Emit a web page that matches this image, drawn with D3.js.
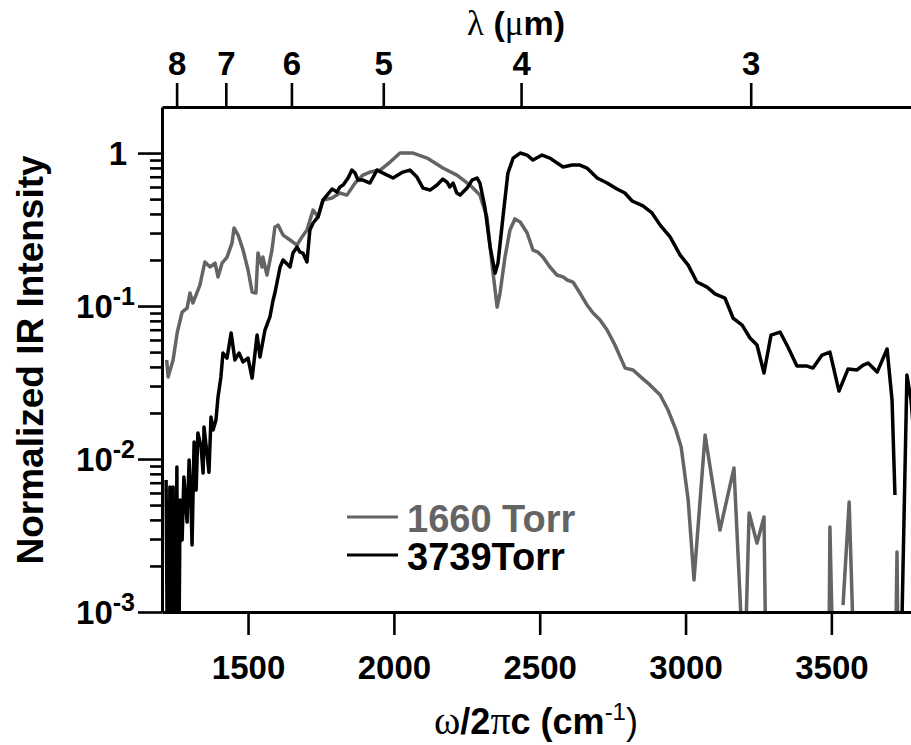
<!DOCTYPE html>
<html><head><meta charset="utf-8">
<script src="https://cdn.jsdelivr.net/npm/d3@7"></script>
<style>body{margin:0;background:#fff}svg{display:block}</style>
</head><body>
<svg id="chart" width="911" height="745"></svg>
<script>
// IR emission spectra, normalized, at two pressures (wavenumber in cm^-1)
const wn1660 = [1221,1226,1243,1257,1274,1291,1301,1311,1335,1352,1370,1387,1397,1411,1428,1445,1452,1466,1483,1500,1514,1527,1534,1548,1551,1565,1582,1592,1603,1620,1644,1668,1685,1702,1723,1740,1757,1788,1815,1839,1867,1894,1918,1953,1987,2021,2066,2114,2168,2216,2261,2295,2319,2336,2354,2364,2381,2398,2415,2433,2457,2477,2494,2511,2535,2559,2580,2594,2614,2638,2662,2683,2707,2731,2758,2793,2820,2851,2878,2913,2940,2967,2985,3009,3029,3067,3118,3166,3187,3201,3218,3245,3269,3280,3489,3495,3513,3530,3540,3561,3588,3715,3725,3732];
const int1660 = [0.0444,0.0344,0.0444,0.0667,0.0914,0.097,0.1216,0.1047,0.137,0.194,0.180,0.191,0.155,0.191,0.209,0.258,0.324,0.291,0.232,0.172,0.1235,0.1216,0.222,0.180,0.209,0.1595,0.232,0.328,0.338,0.291,0.270,0.250,0.283,0.314,0.424,0.382,0.493,0.508,0.548,0.531,0.637,0.718,0.751,0.774,0.873,1.0,1.0,0.927,0.798,0.718,0.618,0.531,0.382,0.191,0.0985,0.1216,0.209,0.314,0.371,0.354,0.300,0.232,0.225,0.209,0.180,0.1595,0.155,0.148,0.1435,0.1216,0.1016,0.090,0.081,0.0697,0.0556,0.0393,0.0382,0.0338,0.0305,0.0262,0.0209,0.0155,0.0120,0.0054,0.00162,0.01435,0.00343,0.00873,0.00124,0.0003,0.00444,0.00282,0.00418,0.0001,0.0001,0.0036,0.0001,null,0.00111,0.00524,0.0001,0.0001,0.00247,0.0001];

const wn3739 = [1219,1226,1232,1239,1243,1250,1256,1260,1267,1274,1280,1291,1298,1304,1308,1315,1322,1328,1339,1346,1349,1359,1366,1373,1380,1390,1397,1407,1414,1428,1442,1455,1469,1483,1500,1514,1531,1541,1558,1575,1586,1592,1610,1620,1644,1654,1668,1678,1688,1702,1712,1723,1740,1757,1771,1788,1805,1815,1826,1843,1856,1867,1877,1894,1918,1942,1963,1997,2031,2055,2079,2100,2124,2148,2168,2182,2192,2203,2216,2227,2251,2268,2285,2295,2312,2330,2347,2357,2374,2391,2409,2433,2457,2477,2508,2535,2580,2611,2638,2662,2697,2731,2765,2792,2817,2854,2885,2913,2947,2981,3009,3039,3074,3101,3135,3163,3194,3221,3245,3269,3293,3324,3351,3382,3417,3437,3468,3495,3526,3557,3588,3609,3626,3657,3691,3708,3718,3725,3732,3759,3773,3790];
const int3739 = [0.0073,0.0001,0.00656,0.0001,0.00656,0.0001,0.00887,0.0001,0.0054,0.00296,0.00762,0.00387,0.00985,0.00565,0.00274,0.0129,0.00627,0.0148,0.0120,0.0081,0.0162,0.0109,0.0082,0.0188,0.0155,0.0180,0.0254,0.0344,0.0493,0.0457,0.0667,0.0444,0.0493,0.0431,0.0457,0.0338,0.0646,0.0464,0.0697,0.0848,0.1095,0.1216,0.180,0.2,0.180,0.222,0.243,0.225,0.222,0.194,0.314,0.349,0.382,0.493,0.531,0.582,0.556,0.600,0.618,0.687,0.774,0.740,0.666,0.666,0.637,0.774,0.740,0.687,0.751,0.774,0.697,0.590,0.573,0.618,0.676,0.646,0.600,0.637,0.548,0.531,0.590,0.666,0.687,0.637,0.444,0.243,0.164,0.191,0.382,0.740,0.927,1.0,0.970,0.900,0.970,0.927,0.810,0.835,0.835,0.798,0.687,0.637,0.582,0.548,0.486,0.451,0.406,0.338,0.283,0.216,0.185,0.1435,0.133,0.120,0.1128,0.0835,0.0751,0.0618,0.0556,0.0365,0.0646,0.0676,0.054,0.0405,0.0405,0.0393,0.0478,0.050,0.0278,0.0387,0.0382,0.0411,0.0424,0.037,0.0524,0.0243,0.00582,null,0.0001,0.0354,0.0243,0.01];

const seriesNames = ["1660 Torr", "3739Torr"];
const seriesColors = ["#646464", "#000000"];

const xDomain = [1205, 3773];          // cm^-1
const topDomain = [1197, 3915];        // cm^-1 span of the wavelength axis
const yDomain = [0.001, 2];
const xTicks = [1500, 2000, 2500, 3000, 3500];
const lambdaTicks = [8, 7, 6, 5, 4, 3]; // micrometres
const yMajor = [0.001, 0.01, 0.1, 1];
const yExp = ["-3", "-2", "-1", ""];

const SANS = "'Liberation Sans', Arial, Helvetica, sans-serif";
const SERIF = "'Liberation Serif', 'Times New Roman', serif";

const svg = d3.select("#chart");
const m = {left: 162, right: 911, top: 107, bottom: 612};

const x = d3.scaleLinear().domain(xDomain).range([m.left, m.right]);
const xTop = d3.scaleLinear().domain(topDomain).range([m.left, m.right]);
const y = d3.scaleLog().domain(yDomain).range([m.bottom, m.top]);

svg.append("defs").append("clipPath").attr("id", "plotClip")
  .append("rect").attr("x", m.left).attr("y", m.top)
  .attr("width", m.right - m.left).attr("height", m.bottom - m.top);

// spectra
const series = [
  wn1660.map((w, i) => ({w, v: int1660[i]})),
  wn3739.map((w, i) => ({w, v: int3739[i]}))
];
const line = d3.line()
  .defined(d => d.v != null && d.v > 0)
  .x(d => x(d.w)).y(d => y(d.v));

svg.append("g").attr("clip-path", "url(#plotClip)")
  .selectAll("path").data(series).join("path")
  .attr("d", line)
  .attr("fill", "none")
  .attr("stroke", (d, i) => seriesColors[i])
  .attr("stroke-width", 3.5)
  .attr("stroke-linejoin", "round");

// bottom axis
const gx = svg.append("g").attr("transform", `translate(0,${m.bottom})`)
  .call(d3.axisBottom(x).tickValues(xTicks).tickFormat(d3.format("d"))
    .tickSize(23).tickSizeOuter(0).tickPadding(21));
// top axis (wavelength)
const gt = svg.append("g").attr("transform", `translate(0,${m.top})`)
  .call(d3.axisTop(xTop).tickValues(lambdaTicks.map(l => 1e4 / l))
    .tickFormat((d, i) => lambdaTicks[i]).tickSize(24).tickSizeOuter(0).tickPadding(8));
// left axis: major and minor ticks
const yMinor = [];
[0.001, 0.01, 0.1].forEach(dec => { for (let k = 2; k <= 9; k++) yMinor.push(dec * k); });
const gyMin = svg.append("g").attr("transform", `translate(${m.left},0)`)
  .call(d3.axisLeft(y).tickValues(yMinor).tickSize(12).tickSizeOuter(0).tickFormat(""));
const gy = svg.append("g").attr("transform", `translate(${m.left},0)`)
  .call(d3.axisLeft(y).tickValues(yMajor).tickSize(24).tickSizeOuter(0).tickFormat(""));

[gx, gt, gy, gyMin].forEach(g => {
  g.select(".domain").attr("stroke", "#000").attr("stroke-width", 3);
  g.selectAll(".tick line").attr("stroke", "#000").attr("stroke-width", 2.6);
  g.selectAll(".tick text").attr("font-family", SANS).attr("font-weight", "bold")
    .attr("font-size", 33).attr("fill", "#000");
});
gyMin.select(".domain").remove();

// left tick labels with powers of ten
yMajor.forEach((v, i) => {
  const t = svg.append("text")
    .attr("x", yExp[i] ? 135 : 127).attr("y", y(v) + 12)
    .attr("text-anchor", "end")
    .attr("font-family", SANS).attr("font-weight", "bold").attr("font-size", 33);
  if (yExp[i]) {
    t.append("tspan").text("10");
    t.append("tspan").attr("dy", -13).attr("font-size", 25).text(yExp[i]);
  } else {
    t.text("1");
  }
});

// axis titles
svg.append("text")
  .attr("transform", `translate(43,360) rotate(-90)`)
  .attr("text-anchor", "middle")
  .attr("font-family", SANS).attr("font-weight", "bold").attr("font-size", 37)
  .text("Normalized IR Intensity");

const xt = svg.append("text").attr("x", 536).attr("y", 734).attr("text-anchor", "middle")
  .attr("font-family", SANS).attr("font-weight", "bold").attr("font-size", 36);
xt.append("tspan").attr("font-family", SERIF).attr("font-weight", "normal").attr("font-size", 40).text("ω");
xt.append("tspan").text("/2");
xt.append("tspan").attr("font-family", SERIF).attr("font-weight", "normal").attr("font-size", 40).text("π");
xt.append("tspan").text("c (cm");
xt.append("tspan").attr("dy", -14).attr("font-size", 24).attr("font-weight", "normal").text("-1");
xt.append("tspan").attr("dy", 14).attr("font-weight", "normal").text(")");

const tt = svg.append("text").attr("x", 516).attr("y", 35).attr("text-anchor", "middle")
  .attr("font-family", SANS).attr("font-weight", "bold").attr("font-size", 34);
tt.append("tspan").attr("font-family", SERIF).attr("font-weight", "normal").attr("font-size", 35).text("λ");
tt.append("tspan").text(" (");
tt.append("tspan").attr("font-family", SERIF).attr("font-weight", "normal").attr("font-size", 35).text("μ");
tt.append("tspan").text("m)");

// legend
const legend = svg.append("g");
seriesNames.forEach((name, i) => {
  const ly = 517 + i * 38;
  legend.append("line").attr("x1", 347).attr("x2", 398).attr("y1", ly).attr("y2", ly)
    .attr("stroke", seriesColors[i]).attr("stroke-width", 3);
  legend.append("text").attr("x", 407).attr("y", ly + 15)
    .attr("font-family", SANS).attr("font-weight", "bold").attr("font-size", 38)
    .attr("fill", seriesColors[i]).text(name);
});
</script>
</body></html>
